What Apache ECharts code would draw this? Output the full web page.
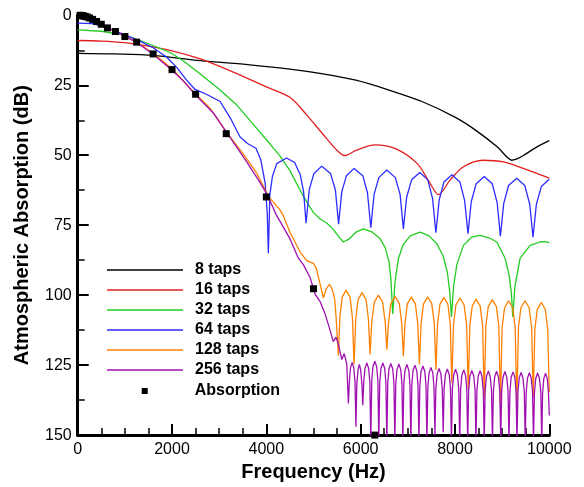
<!DOCTYPE html>
<html>
<head>
<meta charset="utf-8">
<script src="https://cdn.jsdelivr.net/npm/echarts@6/dist/echarts.min.js"></script>
<style>
html,body{margin:0;padding:0;background:#fff;}
#chart{width:584px;height:487px;}
</style>
</head>
<body>
<div id="chart"></div>
<script>
var seriesNames = ['8 taps', '16 taps', '32 taps', '64 taps', '128 taps', '256 taps', 'Absorption'];
var xTicks = [0, 2000, 4000, 6000, 8000, 10000];
var yTicks = [0, 25, 50, 75, 100, 125, 150];

var taps8 = [[0,13.6],[800,13.8],[1600,14.3],[2600,16.2],[3650,17.7],[4500,19.2],[5200,20.9],[5900,23.2],[6600,26.7],[7300,30.8],[8000,36.4],[8450,41.2],[8900,47.1],[9100,50.6],[9200,51.8],[9300,51.4],[9450,50.1],[9730,47.1],[10000,44.8]];

var taps16 = [[0,9.0],[500,9.2],[1000,9.8],[1500,11.0],[2000,12.7],[2600,15.6],[3300,20.3],[4000,25.6],[4500,29.3],[4850,35.5],[5200,42.5],[5500,48.3],[5670,50.1],[5900,48.3],[6300,46.3],[6750,47.7],[7200,53.0],[7470,60],[7650,64.1],[7900,58.8],[8180,54.1],[8600,51.8],[9030,52.4],[9450,54.7],[10000,58.2]];

var taps32 = [[0,5.2],[500,5.7],[1000,7.1],[1340,9.1],[1700,11.5],[1960,13.3],[2250,16.4],[2600,21.0],[3000,26.4],[3370,32],[3700,38.5],[4080,46],[4300,50.5],[4500,55.5],[4700,62],[4850,66.5],[5000,70.5],[5140,72.8],[5280,74.2],[5420,76.5],[5530,79],[5633,81],[5750,80],[5900,77.5],[6057,76.3],[6250,77.5],[6412,79.8],[6520,83],[6600,88],[6640,94],[6680,106.7],[6730,95],[6800,87],[6900,82],[7050,78.8],[7260,77.5],[7450,78.8],[7614,81.6],[7750,86],[7840,92],[7890,99],[7925,107.8],[7970,97],[8040,89],[8180,82.2],[8350,79.3],[8533,78.6],[8720,79.5],[8887,81],[9063,86.8],[9150,93],[9195,99],[9226,107.8],[9270,97],[9381,86.8],[9594,82.2],[9800,81],[9900,80.9],[10000,81.2]];

var taps64 = [[0,2.8],[300,3.0],[500,3.8],[700,4.9],[1000,7.0],[1320,9.2],[1600,11.6],[1890,15],[2100,18.6],[2300,23.0],[2490,26.5],[2740,28.3],[3020,30.8],[3240,36.8],[3440,43.4],[3600,45.8],[3780,47.5],[3880,51.5],[3975,60],[4020,71],[4043,85],[4075,64],[4130,57.5],[4220,53],[4430,51],[4600,52.6],[4720,57],[4790,63],[4842,74.3],
[4910,62.3],[5010,56.5],[5175,53.9],[5360,56.5],[5465,62.5],[5532,74.6],
[5600,63],[5700,57.3],[5860,54.7],[6045,57.3],[6145,63.5],[6215,75.9],
[6285,64],[6385,58],[6554,55.3],[6735,58],[6836,64],[6906,76.3],
[6975,65],[7080,58.8],[7255,56.2],[7425,58.8],[7525,65.5],[7595,77.7],
[7665,66],[7765,59.6],[7935,57],[8105,59.6],[8205,66.2],[8276,78],
[8345,66.6],[8450,60.2],[8620,57.6],[8790,60.2],[8895,67],[8963,78.9],
[9033,67.3],[9135,60.8],[9310,58.2],[9480,60.8],[9585,67.5],[9655,79.3],
[9725,67.6],[9830,61.2],[10000,58.6]];

var taps128 = [[0,0.2],[250,1.0],[500,3.4],[800,5.8],[1000,7.5],[1250,9.6],[1600,13.6],[2000,19.1],[2450,27.3],[2800,33.1],[3160,41.9],[3510,49.5],[3800,56.5],[4040,64.6],[4290,69.5],[4360,71.6],[4500,77.5],[4715,84.5],[4850,87.6],[4930,88.2],[5000,88.6],[5060,90.5],[5139,96],[5209,101],[5270,97.8],[5337,96.1],[5400,98],[5450,101.5],[5480,108],[5527,121.6],
[5560,107.5],[5610,100.7],[5690,98.2],[5775,100.7],[5825,108],[5860,124.7],
[5895,108.6],[5945,101.6],[6030,99.1],[6115,101.6],[6165,108.6],[6200,121.2],
[6235,109.5],[6290,102.5],[6377,100],[6465,102.5],[6520,109.5],[6554,119.5],
[6590,110],[6640,103],[6730,100.5],[6820,103],[6870,110],[6906,121.8],
[6940,110.1],[6990,103.1],[7076,100.6],[7160,103.1],[7210,110.1],[7246,124.7],
[7281,110.1],[7333,103.1],[7420,100.6],[7508,103.1],[7561,110.1],[7596,126.7],
[7630,110.3],[7680,103.3],[7765,100.8],[7850,103.3],[7900,110.3],[7933,131.4],
[7968,110.5],[8020,103.5],[8107,101],[8194,103.5],[8246,110.5],[8281,133.5],
[8315,110.9],[8366,103.9],[8450,101.4],[8535,103.9],[8586,110.9],[8620,137],
[8654,111.1],[8706,104.1],[8792,101.6],[8878,104.1],[8930,111.1],[8964,138.7],
[8999,111.5],[9051,104.5],[9137,102],[9224,104.5],[9276,111.5],[9311,139.1],
[9346,111.5],[9398,104.5],[9486,102],[9573,104.5],[9625,111.5],[9660,136.4],
[9694,112.1],[9745,105.1],[9833,102.6],[9915,105.1],[9966,112.1],[10000,134.6]];

var taps256 = [[0,0.2],[250,1.1],[500,3.5],[800,5.8],[1000,7.5],[1250,9.7],[1600,13.9],[2000,19.6],[2250,23.6],[2500,28.5],[2876,34.9],[3230,43.6],[3584,52.4],[3831,58.8],[4010,63.8],[4220,71.6],[4500,79.8],[4680,86.8],[4785,89.1],[4930,93.8],[5033,99.6],[5140,102.3],[5245,106.6],[5350,112.5],[5420,116.6],[5480,115],[5530,117.7],[5600,123],[5650,120.9],[5705,124.5],[5740,138.7],
[5760,131],[5785,126],[5820,124],[5855,126],[5880,131],[5900,147],
[5918,131.7],[5945,126.7],[5972,124.7],[6000,126.7],[6027,131.7],[6045,139.3],
[6065,131.2],[6090,126.2],[6130,124.2],[6170,126.2],[6195,131.2],[6215,152],
[6235,130.6],[6260,125.6],[6300,123.6],[6340,125.6],[6365,130.6],[6385,152],
[6405,131.2],[6430,126.2],[6470,124.2],[6510,126.2],[6535,131.2],[6555,152],
[6575,131.4],[6600,126.4],[6640,124.4],[6680,126.4],[6705,131.4],[6725,152],
[6745,131.6],[6770,126.6],[6810,124.6],[6850,126.6],[6875,131.6],[6895,152],
[6915,131.8],[6940,126.8],[6980,124.8],[7020,126.8],[7045,131.8],[7065,152],
[7085,132],[7110,127],[7150,125],[7190,127],[7215,132],[7235,152],
[7255,132.3],[7280,127.3],[7320,125.3],[7360,127.3],[7385,132.3],[7405,152],
[7425,132.8],[7450,127.8],[7490,125.8],[7530,127.8],[7555,132.8],[7575,150],
[7595,133.2],[7622,128.2],[7662,126.2],[7702,128.2],[7730,133.2],[7750,149],
[7770,133.4],[7797,128.4],[7838,126.4],[7878,128.4],[7905,133.4],[7925,152],
[7945,133.5],[7972,128.5],[8012,126.5],[8052,128.5],[8080,133.5],[8100,152],
[8120,133.7],[8145,128.7],[8185,126.7],[8225,128.7],[8250,133.7],[8270,152],
[8290,133.9],[8317,128.9],[8358,126.9],[8398,128.9],[8425,133.9],[8445,152],
[8465,134],[8492,129],[8532,127],[8572,129],[8600,134],[8620,152],
[8640,134.1],[8667,129.1],[8708,127.1],[8748,129.1],[8775,134.1],[8795,152],
[8815,134.2],[8842,129.2],[8882,127.2],[8922,129.2],[8950,134.2],[8970,152],
[8990,134.3],[9017,129.3],[9058,127.3],[9098,129.3],[9125,134.3],[9145,152],
[9165,134.4],[9190,129.4],[9230,127.4],[9270,129.4],[9295,134.4],[9315,152],
[9335,134.6],[9362,129.6],[9402,127.6],[9442,129.6],[9470,134.6],[9490,152],
[9510,134.7],[9537,129.7],[9578,127.7],[9618,129.7],[9645,134.7],[9665,152],
[9685,134.8],[9712,129.8],[9752,127.8],[9792,129.8],[9820,134.8],[9840,152],
[9858,134.9],[9882,129.9],[9920,127.9],[9958,129.9],[9982,134.9],[10000,143]];

var absFreq = [50,63,80,100,125,160,200,250,315,400,500,630,800,1000,1250,1600,2000,2500,3150,4000,5000,6300];
var absDb = [0.0,0.05,0.1,0.15,0.25,0.4,0.6,0.95,1.45,2.2,3.2,4.5,5.8,7.6,9.6,13.8,19.4,28.2,42.3,64.9,97.7,150];

var lineData = [taps8, taps16, taps32, taps64, taps128, taps256];
var colors = ['#000000', '#e02020', '#22cc22', '#2b2bff', '#ff8000', '#a010b0'];
var FONT = '"Liberation Sans", Arial, sans-serif';

var series = lineData.map(function (d, i) {
  return {
    name: seriesNames[i],
    type: 'line',
    data: d,
    symbol: 'none',
    smooth: i < 2 ? 0.3 : false,
    lineStyle: { color: colors[i], width: 1.3 },
    itemStyle: { color: colors[i] },
    animation: false
  };
});
series.push({
  name: seriesNames[6],
  type: 'scatter',
  data: absFreq.map(function (f, k) { return [f, absDb[k]]; }),
  symbol: 'rect',
  symbolSize: 7,
  itemStyle: { color: '#000', opacity: 1 },
  clip: false,
  z: 5,
  animation: false
});

var legendText = { fontFamily: FONT, fontSize: 16, fontWeight: 'bold', color: '#000', lineHeight: 20 };
var chart = echarts.init(document.getElementById('chart'), null, { renderer: 'canvas' });
chart.setOption({
  backgroundColor: '#fff',
  animation: false,
  grid: { left: 77.7, right: 34.7, top: 15.3, bottom: 43.3, containLabel: false },
  legend: [{
    data: seriesNames.slice(0, 6).map(function (n) { return { name: n, icon: 'rect' }; }),
    orient: 'vertical',
    left: 107, top: 260,
    itemWidth: 76, itemHeight: 1.4, itemGap: 0,
    padding: 0,
    textStyle: Object.assign({ padding: [0, 0, 0, 7] }, legendText),
    selectedMode: false
  }, {
    data: [{ name: seriesNames[6], icon: 'rect' }],
    orient: 'vertical',
    left: 141.7, top: 381,
    itemWidth: 6, itemHeight: 6, itemGap: 0,
    padding: 0,
    itemStyle: { color: '#000', opacity: 1 },
    textStyle: Object.assign({ padding: [0, 0, 0, 42] }, legendText),
    selectedMode: false
  }],
  xAxis: {
    type: 'value', min: xTicks[0], max: xTicks[xTicks.length - 1], interval: xTicks[1] - xTicks[0],
    name: 'Frequency (Hz)', nameLocation: 'middle', nameGap: 25,
    nameTextStyle: { fontFamily: FONT, fontSize: 20, fontWeight: 'bold', color: '#000' },
    axisLine: { show: true, onZero: false, lineStyle: { color: '#000', width: 3 } },
    axisTick: { show: true, inside: true, length: 11, lineStyle: { color: '#000', width: 2 } },
    minorTick: { show: true, splitNumber: 4, length: 7, lineStyle: { color: '#000', width: 1.5 } },
    axisLabel: { fontFamily: FONT, fontSize: 16, color: '#000', margin: 6, formatter: function (v) { return String(v); } },
    splitLine: { show: false }, minorSplitLine: { show: false }
  },
  yAxis: {
    type: 'value', inverse: true, min: yTicks[0], max: yTicks[yTicks.length - 1], interval: yTicks[1] - yTicks[0],
    name: 'Atmospheric Absorption (dB)', nameLocation: 'middle', nameGap: 45,
    nameTextStyle: { fontFamily: FONT, fontSize: 20, fontWeight: 'bold', color: '#000' },
    axisLine: { show: true, onZero: false, lineStyle: { color: '#000', width: 3 } },
    axisTick: { show: true, inside: true, length: 11, lineStyle: { color: '#000', width: 2 } },
    minorTick: { show: true, splitNumber: 2, length: 7, lineStyle: { color: '#000', width: 1.5 } },
    axisLabel: { fontFamily: FONT, fontSize: 16, color: '#000', margin: 6, formatter: function (v) { return String(v); } },
    splitLine: { show: false }, minorSplitLine: { show: false }
  },
  series: series
});
</script>
</body>
</html>
